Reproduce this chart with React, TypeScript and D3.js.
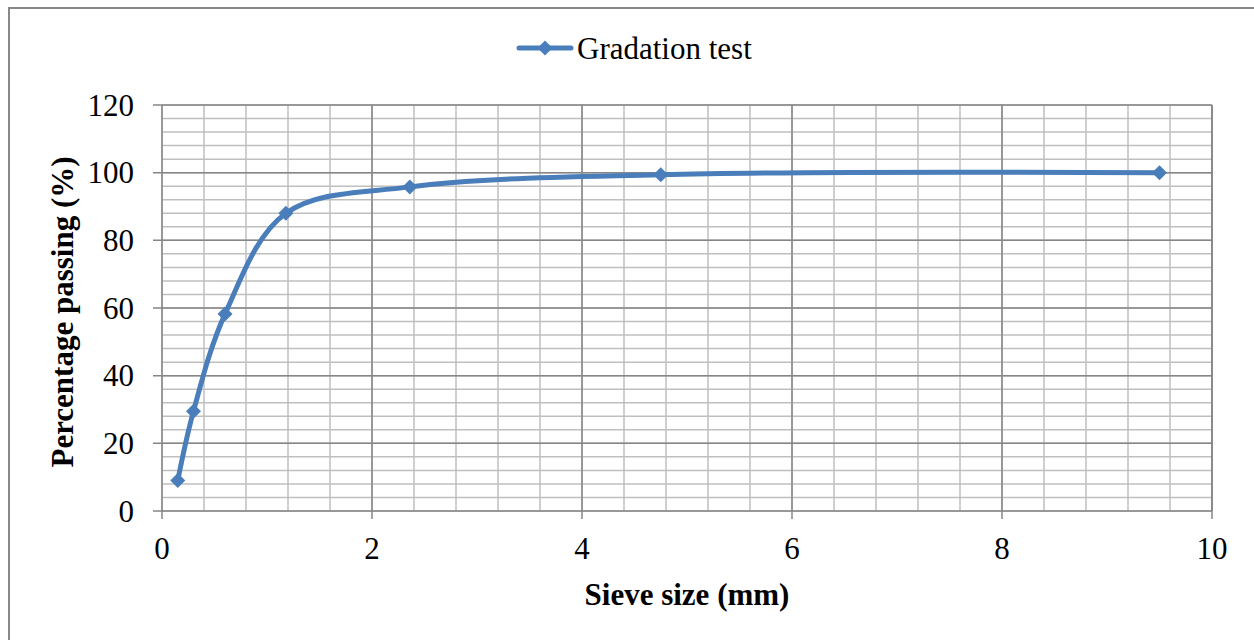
import React from "react";
import * as d3 from "d3";

const sieveSizes = [0.15, 0.3, 0.6, 1.18, 2.36, 4.75, 9.5];
const passing = [9, 29.5, 58.2, 88, 95.8, 99.4, 100];
const xTicks = [0, 2, 4, 6, 8, 10];
const yTicks = [0, 20, 40, 60, 80, 100, 120];
const seriesName = "Gradation test";
const xTitle = "Sieve size (mm)";
const yTitle = "Percentage passing (%)";

export default function App() {
  const W = 1254, H = 640;
  const left = 162, right = 1212, top = 105, bottom = 511;
  const x = d3.scaleLinear().domain([0, 10]).range([left, right]);
  const y = d3.scaleLinear().domain([0, 120]).range([bottom, top]);
  const xMinor = d3.range(0, 10.001, 0.4);
  const yMinor = d3.range(0, 120.001, 4);
  const pts = sieveSizes.map((s, i) => [x(s), y(passing[i])] as [number, number]);
  const line = d3.line().curve(d3.curveCatmullRom.alpha(0.5))(pts) || "";
  const color = "#4a7ebb";
  const fontStyle = { fontFamily: '"Liberation Serif", "Times New Roman", "DejaVu Serif", serif' };
  const diamond = (cx: number, cy: number, r: number) =>
    `M${cx},${cy - r}L${cx + r},${cy}L${cx},${cy + r}L${cx - r},${cy}Z`;
  return (
    <svg width={W} height={H} style={{ position: "absolute", left: 0, top: 0 }}>
      <rect x={0} y={0} width={W} height={H} fill="#fff" />
      <rect x={9} y={8} width={1300} height={700} fill="none" stroke="#888" strokeWidth={2} />
      {xMinor.map((v, i) => (
        <line key={"xm" + i} x1={x(v)} x2={x(v)} y1={top} y2={bottom} stroke="#bfbfbf" strokeWidth={1.5} />
      ))}
      {yMinor.map((v, i) => (
        <line key={"ym" + i} x1={left} x2={right} y1={y(v)} y2={y(v)} stroke="#bfbfbf" strokeWidth={1.5} />
      ))}
      {xTicks.map((v) => (
        <line key={"xM" + v} x1={x(v)} x2={x(v)} y1={top} y2={bottom + 8} stroke="#868686" strokeWidth={1.5} />
      ))}
      {yTicks.map((v) => (
        <line key={"yM" + v} x1={left - 9} x2={right} y1={y(v)} y2={y(v)} stroke="#868686" strokeWidth={1.5} />
      ))}
      <line x1={right} x2={right} y1={top} y2={bottom} stroke="#868686" strokeWidth={1.5} />
      <path d={line} fill="none" stroke={color} strokeWidth={5} strokeLinejoin="round" strokeLinecap="round" />
      {pts.map((p, i) => (
        <path key={"pt" + i} d={diamond(p[0], p[1], 7.5)} fill={color} />
      ))}
      {xTicks.map((v) => (
        <text key={"xl" + v} x={x(v)} y={559} textAnchor="middle" fontSize={31} style={fontStyle}>{v}</text>
      ))}
      {yTicks.map((v) => (
        <text key={"yl" + v} x={134} y={y(v) + 10.5} textAnchor="end" fontSize={31} style={fontStyle}>{v}</text>
      ))}
      <text x={687} y={605} textAnchor="middle" fontSize={31} fontWeight="bold" style={fontStyle}>{xTitle}</text>
      <text transform={`translate(73,312) rotate(-90)`} textAnchor="middle" fontSize={31} fontWeight="bold" style={fontStyle}>{yTitle}</text>
      <line x1={519} x2={571} y1={48} y2={48} stroke={color} strokeWidth={5} strokeLinecap="round" />
      <path d={diamond(545, 48, 7.5)} fill={color} />
      <text x={577} y={59} fontSize={31} style={fontStyle}>{seriesName}</text>
    </svg>
  );
}
